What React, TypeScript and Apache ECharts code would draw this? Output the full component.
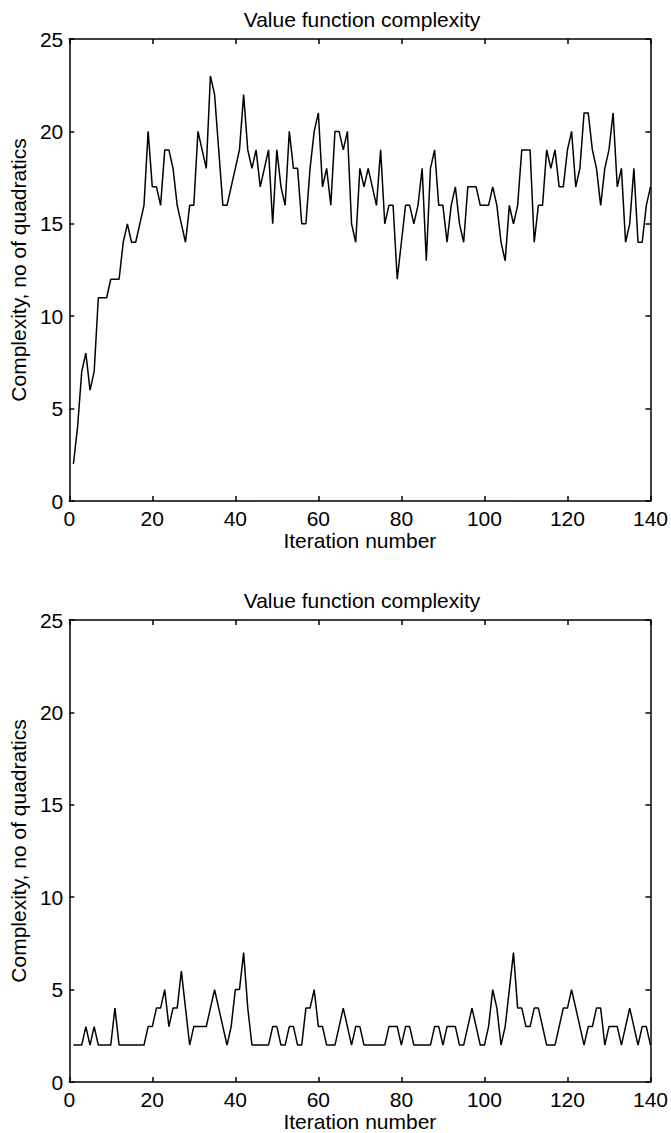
import React, { useEffect, useRef } from "react";
import * as echarts from "echarts";

const titleText = "Value function complexity";
const xName = "Iteration number";
const yName = "Complexity, no of quadratics";

const iterations: number[] = Array.from({ length: 140 }, (_, i) => i + 1);

const complexityTop: number[] = [
  2, 4, 7, 8, 6, 7, 11, 11, 11, 12,
  12, 12, 14, 15, 14, 14, 15, 16, 20, 17,
  17, 16, 19, 19, 18, 16, 15, 14, 16, 16,
  20, 19, 18, 23, 22, 19, 16, 16, 17, 18,
  19, 22, 19, 18, 19, 17, 18, 19, 15, 19,
  17, 16, 20, 18, 18, 15, 15, 18, 20, 21,
  17, 18, 16, 20, 20, 19, 20, 15, 14, 18,
  17, 18, 17, 16, 19, 15, 16, 16, 12, 14,
  16, 16, 15, 16, 18, 13, 18, 19, 16, 16,
  14, 16, 17, 15, 14, 17, 17, 17, 16, 16,
  16, 17, 16, 14, 13, 16, 15, 16, 19, 19,
  19, 14, 16, 16, 19, 18, 19, 17, 17, 19,
  20, 17, 18, 21, 21, 19, 18, 16, 18, 19,
  21, 17, 18, 14, 15, 18, 14, 14, 16, 17,
];

const complexityBottom: number[] = [
  2, 2, 2, 3, 2, 3, 2, 2, 2, 2,
  4, 2, 2, 2, 2, 2, 2, 2, 3, 3,
  4, 4, 5, 3, 4, 4, 6, 4, 2, 3,
  3, 3, 3, 4, 5, 4, 3, 2, 3, 5,
  5, 7, 4, 2, 2, 2, 2, 2, 3, 3,
  2, 2, 3, 3, 2, 2, 4, 4, 5, 3,
  3, 2, 2, 2, 3, 4, 3, 2, 3, 3,
  2, 2, 2, 2, 2, 2, 3, 3, 3, 2,
  3, 3, 2, 2, 2, 2, 2, 3, 3, 2,
  3, 3, 3, 2, 2, 3, 4, 3, 2, 2,
  3, 5, 4, 2, 3, 5, 7, 4, 4, 3,
  3, 4, 4, 3, 2, 2, 2, 3, 4, 4,
  5, 4, 3, 2, 3, 3, 4, 4, 2, 3,
  3, 3, 2, 3, 4, 3, 2, 3, 3, 2,
];

const FONT = "'Liberation Sans', Arial, Helvetica, sans-serif";
const FS = 21;

export default function App() {
  const ref = useRef<HTMLDivElement>(null);
  useEffect(() => {
    if (!ref.current) return;
    const chart = echarts.init(ref.current, undefined, { renderer: "svg" });

    const grids = [
      { left: 62, top: 39, width: 590, height: 462 },
      { left: 62, top: 620, width: 590, height: 462 },
    ];
    const lineStyle = { color: "#000", width: 1.5 };
    const axisCommon = {
      axisLine: { show: true, onZero: false, lineStyle },
      axisTick: { show: true, inside: true, length: 5, lineStyle },
      splitLine: { show: false },
    };
    const xAxes: any[] = [];
    const yAxes: any[] = [];
    const series: any[] = [];
    const datasets = [complexityTop, complexityBottom];
    grids.forEach((_, gi) => {
      xAxes.push({
        type: "value",
        gridIndex: gi,
        min: 0,
        max: 140,
        interval: 20,
        position: "bottom",
        name: xName,
        nameLocation: "middle",
        nameGap: 28,
        nameTextStyle: { color: "#000", fontSize: FS, fontFamily: FONT },
        axisLabel: { color: "#000", fontSize: FS, fontFamily: FONT, margin: 7 },
        ...axisCommon,
      });
      xAxes.push({
        type: "value",
        gridIndex: gi,
        min: 0,
        max: 140,
        interval: 20,
        position: "top",
        axisLabel: { show: false },
        ...axisCommon,
      });
      yAxes.push({
        type: "value",
        gridIndex: gi,
        min: 0,
        max: 25,
        interval: 5,
        position: "left",
        name: yName,
        nameLocation: "middle",
        nameGap: 30,
        nameTextStyle: { color: "#000", fontSize: FS, fontFamily: FONT },
        axisLabel: { color: "#000", fontSize: FS, fontFamily: FONT, margin: 6 },
        ...axisCommon,
      });
      yAxes.push({
        type: "value",
        gridIndex: gi,
        min: 0,
        max: 25,
        interval: 5,
        position: "right",
        axisLabel: { show: false },
        ...axisCommon,
      });
      series.push({
        type: "line",
        xAxisIndex: gi * 2,
        yAxisIndex: gi * 2,
        data: iterations.map((it, i) => [it, datasets[gi][i]]),
        showSymbol: false,
        symbol: "none",
        lineStyle: { color: "#000", width: 1.5 },
        silent: true,
      });
    });

    chart.setOption({
      animation: false,
      backgroundColor: "#fff",
      title: [
        {
          text: titleText,
          left: 357,
          top: 4,
          textAlign: "center",
          textStyle: { color: "#000", fontSize: FS, fontWeight: "normal", fontFamily: FONT },
        },
        {
          text: titleText,
          left: 357,
          top: 585,
          textAlign: "center",
          textStyle: { color: "#000", fontSize: FS, fontWeight: "normal", fontFamily: FONT },
        },
      ],
      grid: grids,
      xAxis: xAxes,
      yAxis: yAxes,
      series,
    });
    return () => chart.dispose();
  }, []);
  return (
    <div
      ref={ref}
      style={{ position: "absolute", left: 0, top: 0, width: 671, height: 1133 }}
    />
  );
}
